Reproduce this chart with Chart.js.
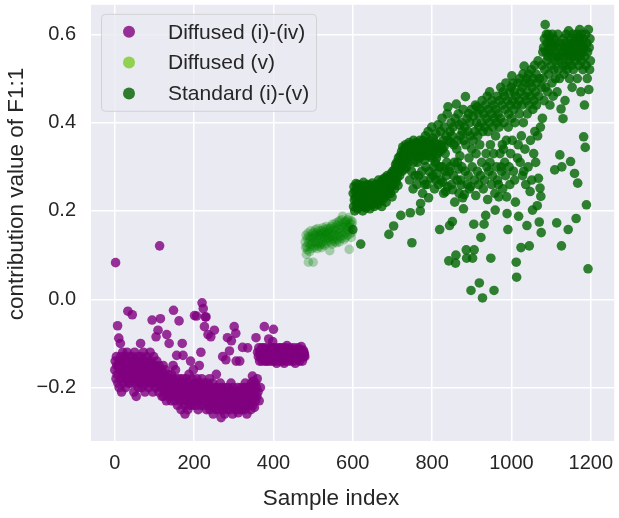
<!DOCTYPE html>
<html>
<head>
<meta charset="utf-8">
<script src="https://cdn.jsdelivr.net/npm/chart.js@4.4.1/dist/chart.umd.min.js"></script>
<style>
  html, body { margin: 0; padding: 0; background: #ffffff; }
  #wrap { width: 619px; height: 518px; }
</style>
</head>
<body>
<div id="wrap"><canvas id="myChart" width="619" height="518"></canvas></div>
<script>
const seriesNames = ['Diffused (i)-(iv)', 'Diffused (v)', 'Standard (i)-(v)'];
const xTicks = [0, 200, 400, 600, 800, 1000, 1200];
const yTicks = [-0.2, 0.0, 0.2, 0.4, 0.6];
const xTitleText = 'Sample index';
const yTitleText = 'contribution value of F1:1';

// sample index of the first value in each group
const diffusedStart = 0;
const diffusedVStart = 480;
const standardStart = 600;

// Diffused (i)-(iv), samples 0-479
const diffusedY = [
  -0.16, -0.14, 0.083, -0.18, -0.13, -0.15, -0.17, -0.06, -0.19, -0.15, -0.088, -0.2, -0.14, -0.16, -0.1, -0.13, -0.18, -0.21, -0.15, -0.17,
  -0.12, -0.16, -0.19, -0.14, -0.17, -0.13, -0.15, -0.2, -0.16, -0.18, -0.14, -0.12, -0.17, -0.027, -0.15, -0.19, -0.16, -0.13, -0.18, -0.15,
  -0.17, -0.14, -0.19, -0.16, -0.035, -0.13, -0.18, -0.15, -0.21, -0.17, -0.12, -0.16, -0.19, -0.14, -0.22, -0.18, -0.15, -0.17, -0.13, -0.2,
  -0.16, -0.18, -0.14, -0.19, -0.15, -0.1, -0.17, -0.13, -0.2, -0.16, -0.18, -0.15, -0.12, -0.19, -0.17, -0.14, -0.21, -0.16, -0.18, -0.15,
  -0.17, -0.13, -0.19, -0.16, -0.14, -0.2, -0.18, -0.15, -0.17, -0.12, -0.19, -0.16, -0.14, -0.18, -0.047, -0.15, -0.21, -0.17, -0.13, -0.19,
  -0.16, -0.18, -0.15, -0.2, -0.085, -0.17, -0.14, -0.19, -0.16, -0.07, -0.18, -0.21, -0.15, 0.121, -0.17, -0.044, -0.19, -0.2, -0.16, -0.22,
  -0.18, -0.2, -0.15, -0.22, -0.17, -0.19, -0.21, -0.16, -0.2, -0.18, -0.23, -0.08, -0.19, -0.21, -0.17, -0.2, -0.22, -0.1, -0.18, -0.2,
  -0.21, -0.19, -0.23, -0.17, -0.2, -0.22, -0.18, -0.15, -0.025, -0.21, -0.19, -0.23, -0.2, -0.16, -0.22, -0.18, -0.127, -0.21, -0.24, -0.19,
  -0.2, -0.22, -0.049, -0.18, -0.23, -0.21, -0.19, -0.25, -0.2, -0.22, -0.1, -0.18, -0.127, -0.23, -0.21, -0.19, -0.24, -0.26, -0.2, -0.22,
  -0.18, -0.21, -0.23, -0.19, -0.25, -0.2, -0.22, -0.17, -0.24, -0.21, -0.19, -0.14, -0.23, -0.2, -0.22, -0.18, -0.24, -0.21, -0.16, -0.23,
  -0.2, -0.037, -0.22, -0.19, -0.24, -0.21, -0.038, -0.18, -0.23, -0.2, -0.25, -0.22, -0.19, -0.15, -0.21, -0.24, -0.2, -0.12, -0.22, -0.18,
  -0.008, -0.23, -0.21, -0.021, -0.19, -0.24, -0.062, -0.2, -0.04, -0.22, -0.04, -0.25, -0.21, -0.19, -0.23, -0.08, -0.2, -0.24, -0.22, -0.18,
  -0.25, -0.21, -0.085, -0.23, -0.2, -0.24, -0.22, -0.19, -0.26, -0.23, -0.21, -0.07, -0.24, -0.2, -0.22, -0.25, -0.17, -0.23, -0.21, -0.24,
  -0.22, -0.2, -0.25, -0.23, -0.21, -0.24, -0.19, -0.22, -0.268, -0.23, -0.2, -0.25, -0.13, -0.22, -0.24, -0.21, -0.23, -0.26, -0.2, -0.24,
  -0.137, -0.22, -0.25, -0.21, -0.087, -0.23, -0.2, -0.24, -0.22, -0.117, -0.25, -0.21, -0.23, -0.19, -0.094, -0.24, -0.22, -0.26, -0.2, -0.23,
  -0.21, -0.062, -0.24, -0.22, -0.25, -0.077, -0.14, -0.23, -0.21, -0.24, -0.2, -0.257, -0.22, -0.25, -0.23, -0.14, -0.21, -0.24, -0.2, -0.22,
  -0.25, -0.23, -0.109, -0.21, -0.24, -0.22, -0.2, -0.25, -0.23, -0.19, -0.24, -0.21, -0.23, -0.26, -0.2, -0.11, -0.22, -0.24, -0.21, -0.23,
  -0.2, -0.24, -0.22, -0.25, -0.19, -0.23, -0.21, -0.174, -0.24, -0.2, -0.185, -0.22, -0.245, -0.21, -0.19, -0.23, -0.087, -0.2, -0.22, -0.18,
  -0.12, -0.21, -0.13, -0.11, -0.23, -0.14, -0.12, -0.2, -0.13, -0.12, -0.11, -0.14, -0.13, -0.12, -0.135, -0.11, -0.13, -0.062, -0.12, -0.14,
  -0.13, -0.12, -0.11, -0.14, -0.125, -0.13, -0.115, -0.12, -0.09, -0.14, -0.13, -0.12, -0.11, -0.135, -0.12, -0.13, -0.14, -0.12, -0.096, -0.11,
  -0.068, -0.13, -0.12, -0.14, -0.11, -0.125, -0.13, -0.12, -0.145, -0.115, -0.13, -0.12, -0.11, -0.14, -0.13, -0.12, -0.125, -0.11, -0.135, -0.12,
  -0.13, -0.12, -0.14, -0.11, -0.125, -0.13, -0.12, -0.145, -0.115, -0.13, -0.12, -0.11, -0.14, -0.13, -0.105, -0.125, -0.12, -0.135, -0.13, -0.115,
  -0.12, -0.14, -0.13, -0.11, -0.125, -0.12, -0.135, -0.13, -0.115, -0.12, -0.14, -0.13, -0.11, -0.125, -0.12, -0.145, -0.13, -0.12, -0.115, -0.13,
  -0.12, -0.135, -0.11, -0.125, -0.13, -0.12, -0.14, -0.115, -0.13, -0.12, -0.107, -0.125, -0.13, -0.14, -0.12, -0.115, -0.13, -0.12, -0.125, -0.13
];

// Diffused (v), samples 480-599
const diffusedVY = [
  0.13, 0.117, 0.145, 0.102, 0.12, 0.138, 0.112, 0.15, 0.084, 0.128, 0.142, 0.108, 0.135, 0.12, 0.155, 0.125, 0.14, 0.115, 0.148, 0.13,
  0.084, 0.138, 0.152, 0.118, 0.145, 0.128, 0.158, 0.122, 0.14, 0.15, 0.115, 0.135, 0.16, 0.128, 0.145, 0.12, 0.155, 0.138, 0.148, 0.125,
  0.142, 0.117, 0.155, 0.13, 0.148, 0.162, 0.125, 0.14, 0.152, 0.122, 0.158, 0.135, 0.145, 0.165, 0.128, 0.15, 0.14, 0.16, 0.132, 0.155,
  0.148, 0.138, 0.11, 0.16, 0.142, 0.13, 0.165, 0.152, 0.125, 0.17, 0.145, 0.135, 0.158, 0.148, 0.13, 0.162, 0.172, 0.14, 0.155, 0.128,
  0.145, 0.168, 0.135, 0.175, 0.15, 0.16, 0.13, 0.178, 0.142, 0.158, 0.168, 0.138, 0.18, 0.152, 0.188, 0.145, 0.162, 0.172, 0.135, 0.165,
  0.15, 0.175, 0.14, 0.177, 0.158, 0.168, 0.145, 0.18, 0.155, 0.165, 0.185, 0.113, 0.172, 0.148, 0.162, 0.178, 0.14, 0.17, 0.152, 0.175
];

// Standard (i)-(v), samples 600-1199
const standardY = [
  0.158, 0.24, 0.21, 0.255, 0.225, 0.2, 0.245, 0.23, 0.262, 0.215, 0.25, 0.235, 0.205, 0.26, 0.22, 0.245, 0.232, 0.21, 0.25, 0.24,
  0.125, 0.228, 0.258, 0.215, 0.243, 0.2, 0.236, 0.265, 0.222, 0.248, 0.21, 0.238, 0.255, 0.207, 0.23, 0.245, 0.218, 0.26, 0.232, 0.212,
  0.25, 0.227, 0.242, 0.205, 0.258, 0.235, 0.22, 0.248, 0.23, 0.263, 0.215, 0.24, 0.225, 0.252, 0.21, 0.238, 0.245, 0.228, 0.26, 0.22,
  0.243, 0.232, 0.255, 0.215, 0.248, 0.27, 0.228, 0.24, 0.258, 0.222, 0.265, 0.235, 0.25, 0.21, 0.26, 0.238, 0.272, 0.245, 0.228, 0.262,
  0.25, 0.275, 0.235, 0.258, 0.22, 0.268, 0.245, 0.28, 0.255, 0.238, 0.27, 0.147, 0.262, 0.25, 0.278, 0.24, 0.265, 0.285, 0.255, 0.232,
  0.27, 0.29, 0.26, 0.166, 0.28, 0.25, 0.295, 0.272, 0.305, 0.265, 0.285, 0.31, 0.275, 0.3, 0.258, 0.32, 0.29, 0.31, 0.28, 0.325,
  0.3, 0.19, 0.315, 0.335, 0.29, 0.32, 0.345, 0.305, 0.33, 0.31, 0.34, 0.295, 0.325, 0.35, 0.315, 0.335, 0.3, 0.345, 0.32, 0.34,
  0.31, 0.335, 0.355, 0.27, 0.34, 0.196, 0.33, 0.35, 0.29, 0.128, 0.345, 0.325, 0.25, 0.36, 0.31, 0.335, 0.35, 0.28, 0.345, 0.33,
  0.355, 0.325, 0.26, 0.31, 0.35, 0.335, 0.28, 0.345, 0.32, 0.36, 0.2, 0.217, 0.335, 0.35, 0.29, 0.325, 0.24, 0.36, 0.27, 0.33,
  0.35, 0.315, 0.26, 0.37, 0.3, 0.335, 0.355, 0.26, 0.325, 0.345, 0.38, 0.23, 0.34, 0.29, 0.36, 0.325, 0.35, 0.275, 0.335, 0.39,
  0.32, 0.345, 0.28, 0.365, 0.3, 0.335, 0.25, 0.355, 0.31, 0.27, 0.375, 0.32, 0.285, 0.35, 0.33, 0.395, 0.26, 0.345, 0.3, 0.158,
  0.335, 0.38, 0.27, 0.35, 0.3, 0.41, 0.34, 0.265, 0.36, 0.24, 0.345, 0.39, 0.29, 0.33, 0.244, 0.37, 0.28, 0.31, 0.42, 0.255,
  0.436, 0.36, 0.087, 0.29, 0.167, 0.38, 0.3, 0.355, 0.4, 0.26, 0.37, 0.176, 0.248, 0.39, 0.28, 0.35, 0.31, 0.22, 0.41, 0.082,
  0.1, 0.442, 0.34, 0.27, 0.31, 0.36, 0.42, 0.295, 0.24, 0.395, 0.325, 0.37, 0.27, 0.259, 0.4, 0.3, 0.38, 0.23, 0.43, 0.205,
  0.36, 0.237, 0.39, 0.29, 0.459, 0.35, 0.112, 0.093, 0.41, 0.26, 0.38, 0.28, 0.42, 0.32, 0.25, 0.4, 0.37, 0.255, 0.02, 0.43,
  0.34, 0.3, 0.093, 0.36, 0.415, 0.17, 0.112, 0.27, 0.38, 0.44, 0.235, 0.33, 0.4, 0.436, 0.29, 0.37, 0.42, 0.26, 0.39, 0.037,
  0.35, 0.43, 0.28, 0.14, 0.4, 0.31, 0.45, 0.003, 0.38, 0.25, 0.42, 0.17, 0.27, 0.39, 0.44, 0.19, 0.33, 0.41, 0.3, 0.46,
  0.226, 0.38, 0.43, 0.29, 0.4, 0.47, 0.31, 0.35, 0.093, 0.42, 0.26, 0.45, 0.28, 0.39, 0.44, 0.33, 0.02, 0.41, 0.24, 0.202,
  0.37, 0.43, 0.3, 0.4, 0.46, 0.27, 0.42, 0.26, 0.232, 0.39, 0.45, 0.33, 0.41, 0.48, 0.3, 0.29, 0.44, 0.35, 0.25, 0.47,
  0.34, 0.4, 0.46, 0.31, 0.43, 0.28, 0.49, 0.36, 0.232, 0.194, 0.45, 0.158, 0.39, 0.42, 0.3, 0.47, 0.26, 0.44, 0.33, 0.48,
  0.41, 0.506, 0.36, 0.45, 0.489, 0.29, 0.43, 0.47, 0.27, 0.4, 0.22, 0.46, 0.084, 0.05, 0.44, 0.32, 0.49, 0.35, 0.188, 0.45,
  0.42, 0.5, 0.31, 0.47, 0.117, 0.37, 0.44, 0.48, 0.28, 0.51, 0.4, 0.29, 0.528, 0.46, 0.34, 0.49, 0.26, 0.45, 0.5, 0.167,
  0.42, 0.47, 0.3, 0.51, 0.44, 0.121, 0.49, 0.244, 0.36, 0.46, 0.52, 0.27, 0.48, 0.202, 0.43, 0.5, 0.33, 0.45, 0.53, 0.38,
  0.47, 0.31, 0.51, 0.44, 0.49, 0.212, 0.37, 0.54, 0.274, 0.46, 0.175, 0.5, 0.252, 0.39, 0.233, 0.151, 0.48, 0.53, 0.41, 0.56,
  0.5, 0.57, 0.45, 0.59, 0.52, 0.622, 0.48, 0.56, 0.6, 0.54, 0.58, 0.47, 0.55, 0.6, 0.51, 0.57, 0.59, 0.44, 0.56, 0.58,
  0.53, 0.58, 0.49, 0.6, 0.55, 0.46, 0.57, 0.52, 0.59, 0.293, 0.54, 0.5, 0.58, 0.56, 0.173, 0.47, 0.55, 0.6, 0.52, 0.57,
  0.54, 0.5, 0.327, 0.58, 0.55, 0.431, 0.121, 0.3, 0.56, 0.53, 0.409, 0.59, 0.51, 0.57, 0.55, 0.45, 0.58, 0.53, 0.6, 0.56,
  0.52, 0.57, 0.55, 0.158, 0.608, 0.54, 0.5, 0.58, 0.56, 0.312, 0.59, 0.53, 0.57, 0.48, 0.55, 0.6, 0.52, 0.58, 0.56, 0.285,
  0.54, 0.59, 0.57, 0.183, 0.55, 0.6, 0.5, 0.263, 0.58, 0.56, 0.53, 0.59, 0.611, 0.55, 0.57, 0.47, 0.6, 0.54, 0.58, 0.56,
  0.52, 0.59, 0.368, 0.57, 0.44, 0.55, 0.344, 0.6, 0.53, 0.214, 0.58, 0.5, 0.56, 0.069, 0.611, 0.475, 0.57, 0.52, 0.59, 0.54
];

const pointColors = ['rgba(128,0,128,0.8)', 'rgba(0,128,0,0.3)', 'rgba(0,100,0,0.8)'];
const legendColors = ['rgb(150,48,151)', 'rgb(146,208,80)', 'rgb(46,125,46)'];

const textColor = '#262626';
const fontFamily = '"Liberation Sans", Arial, sans-serif';

function toPoints(start, ys) {
  return ys.map((v, i) => ({ x: start + i, y: v }));
}

// grey panel behind the grid
const panelBg = {
  id: 'panelBg',
  beforeDraw(chart) {
    const a = chart.chartArea;
    const ctx = chart.ctx;
    ctx.save();
    ctx.fillStyle = '#eaeaf2';
    ctx.fillRect(a.left, a.top, a.right - a.left, a.bottom - a.top);
    ctx.restore();
  }
};

// framed legend in the upper left corner of the panel, plus both axis labels
const legendBox = {
  id: 'legendBox',
  afterDraw(chart) {
    const ctx = chart.ctx;
    const a = chart.chartArea;
    const bx = a.left + 10, by = a.top + 9, bw = 215, bh = 97;
    ctx.save();
    ctx.beginPath();
    ctx.roundRect(bx + 0.5, by + 0.5, bw, bh, 4);
    ctx.fillStyle = 'rgba(234,234,242,0.8)';
    ctx.fill();
    ctx.strokeStyle = 'rgba(204,204,204,0.8)';
    ctx.lineWidth = 1;
    ctx.stroke();
    ctx.font = '21px ' + fontFamily;
    ctx.textBaseline = 'middle';
    ctx.textAlign = 'left';
    chart.data.datasets.forEach((ds, i) => {
      const cy = by + 18 + i * 30.8;
      ctx.beginPath();
      ctx.arc(bx + 28, cy, 6, 0, Math.PI * 2);
      ctx.fillStyle = legendColors[i];
      ctx.fill();
      ctx.fillStyle = textColor;
      ctx.fillText(ds.label, bx + 67, cy + 1);
    });

    ctx.font = '22.5px ' + fontFamily;
    ctx.textAlign = 'center';
    ctx.fillText(xTitleText, 331, 499);

    ctx.translate(17, 194);
    ctx.rotate(-Math.PI / 2);
    ctx.fillText(yTitleText, 0, 0);
    ctx.restore();
  }
};

new Chart(document.getElementById('myChart'), {
  type: 'scatter',
  data: {
    datasets: [
      { label: seriesNames[0], data: toPoints(diffusedStart, diffusedY), backgroundColor: pointColors[0], order: 2 },
      { label: seriesNames[1], data: toPoints(diffusedVStart, diffusedVY), backgroundColor: pointColors[1], order: 1 },
      { label: seriesNames[2], data: toPoints(standardStart, standardY), backgroundColor: pointColors[2], order: 0 }
    ]
  },
  options: {
    responsive: false,
    animation: false,
    devicePixelRatio: 1,
    layout: { padding: 0 },
    elements: { point: { radius: 4.8, borderWidth: 0, hoverRadius: 4.8 } },
    plugins: { legend: { display: false }, tooltip: { enabled: false } },
    scales: {
      x: {
        type: 'linear',
        min: -60,
        max: 1259,
        afterBuildTicks: s => { s.ticks = xTicks.map(v => ({ value: v })); },
        afterFit: s => { s.height = 77; s.paddingLeft = 0; s.paddingRight = 0; },
        grid: { color: '#ffffff', lineWidth: 1.5, drawTicks: false },
        border: { display: false },
        ticks: { padding: 10, color: textColor, font: { family: fontFamily, size: 20 },
                 callback: v => String(v) }
      },
      y: {
        type: 'linear',
        min: -0.321,
        max: 0.667,
        afterBuildTicks: s => { s.ticks = yTicks.map(v => ({ value: v })); },
        afterFit: s => { s.width = 91; s.paddingTop = 0; s.paddingBottom = 0; },
        grid: { color: '#ffffff', lineWidth: 1.5, drawTicks: false },
        border: { display: false },
        ticks: {
          padding: 15, color: textColor, font: { family: fontFamily, size: 20 },
          callback: v => (Math.abs(v) < 1e-9 ? 0 : v).toFixed(1).replace('-', '\u2212')
        }
      }
    }
  },
  plugins: [panelBg, legendBox]
});
</script>
</body>
</html>
